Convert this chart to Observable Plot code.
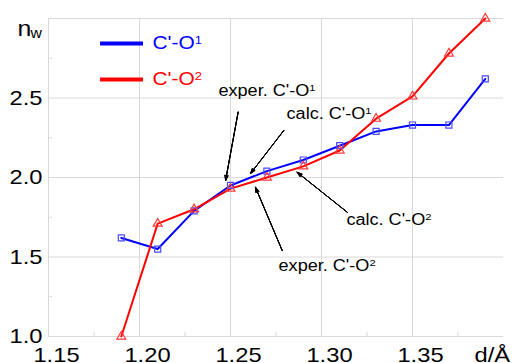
<!DOCTYPE html>
<html>
<head>
<meta charset="utf-8">
<script src="https://cdn.jsdelivr.net/npm/d3@7"></script>
<script src="https://cdn.jsdelivr.net/npm/@observablehq/plot@0.6"></script>
<style>
  html, body { margin: 0; padding: 0; background: #fff; }
  #chart svg { font-family: "Liberation Sans", Arial, sans-serif; }
</style>
</head>
<body>
<div id="chart"></div>
<script>
// Data
const distance = [1.19, 1.21, 1.23, 1.25, 1.27, 1.29, 1.31, 1.33, 1.35, 1.37, 1.39];
const nwCO1 = [1.62, 1.55, 1.79, 1.95, 2.04, 2.11, 2.20, 2.29, 2.33, 2.33, 2.62];
const nwCO2 = [1.00, 1.71, 1.80, 1.93, 2.00, 2.07, 2.17, 2.37, 2.51, 2.78, 3.00];

const xTicks = [1.15, 1.20, 1.25, 1.30, 1.35];
const xMinor = [1.175, 1.225, 1.275, 1.325, 1.375];
const yTicks = [1.0, 1.5, 2.0, 2.5];
const yMinor = [1.25, 1.75, 2.25, 2.75];
const xGrid = [1.20, 1.25, 1.30, 1.35];
const yGrid = [1.5, 2.0, 2.5, 3.0];

const seriesNames = ["C'-O\u00B9", "C'-O\u00B2"];
const seriesColors = ["#0000ff", "#ff0000"];

// Legend entries (data coordinates)
const legendY = [2.843, 2.616];
const legendX = [1.1786, 1.2022, 1.2071];

// Annotations (data coordinates)
const annLabels = ["exper. C'-O\u00B9", "calc. C'-O\u00B9", "calc. C'-O\u00B2", "exper. C'-O\u00B2"];
const annTextX = [1.2434, 1.2808, 1.3137, 1.2764];
const annTextY = [2.547, 2.403, 1.736, 1.447];
const annFromX = [1.2542, 1.2793, 1.3141, 1.2784];
const annFromY = [2.411, 2.296, 1.782, 1.541];
const annToX = [1.2473, 1.2610, 1.2866, 1.2637];
const annToY = [1.981, 2.025, 2.033, 1.939];
const headAngles = [40, 30, 20, 10];

const rows1 = distance.map((x, i) => ({x, y: nwCO1[i]}));
const rows2 = distance.map((x, i) => ({x, y: nwCO2[i]}));
const legendRows = seriesNames.map((name, i) => ({name, color: seriesColors[i], y: legendY[i]}));
const annRows = annLabels.map((t, i) => ({
  t, tx: annTextX[i], ty: annTextY[i],
  x1: annFromX[i], y1: annFromY[i], x2: annToX[i], y2: annToY[i]
}));

const grid = "#d9d9d9";

const chart = Plot.plot({
  width: 512,
  height: 363,
  marginLeft: 48,
  marginRight: 9,
  marginTop: 18,
  marginBottom: 27,
  x: {domain: [1.15, 1.40]},
  y: {domain: [1.0, 3.0]},
  marks: [
    Plot.gridX(xGrid, {stroke: grid, strokeOpacity: 1}),
    Plot.gridY(yGrid, {stroke: grid, strokeOpacity: 1}),
    Plot.ruleX([1.15], {stroke: grid}),
    Plot.ruleY([1.0], {stroke: grid}),
    Plot.axisX(xMinor, {tickSize: -4, stroke: grid, text: null}),
    Plot.axisY(yMinor, {tickSize: -4, stroke: grid, text: null}),
    Plot.axisX(xTicks, {tickSize: 0, tickPadding: 11, tickFormat: ".2f", fontSize: 21, fill: "#000", dx: 8, label: null}),
    Plot.axisY(yTicks, {tickSize: 0, tickPadding: 6, tickFormat: ".1f", fontSize: 21, fill: "#000", label: null}),
    Plot.text(["d/\u00C5"], {frameAnchor: "bottom-right", textAnchor: "start", lineAnchor: "top", dx: -29, dy: 11, fontSize: 21, fill: "#000"}),
    Plot.text(["n"], {frameAnchor: "top-left", textAnchor: "start", lineAnchor: "middle", dx: -31, dy: 10, fontSize: 22, fill: "#000"}),
    Plot.text(["w"], {frameAnchor: "top-left", textAnchor: "start", lineAnchor: "middle", dx: -18, dy: 15, fontSize: 14, fill: "#000"}),
    // series
    Plot.line(rows1, {x: "x", y: "y", stroke: seriesColors[0], strokeWidth: 2}),
    Plot.line(rows2, {x: "x", y: "y", stroke: seriesColors[1], strokeWidth: 2}),
    Plot.dot(rows1, {x: "x", y: "y", symbol: "square", r: 3.4, fill: "none", stroke: "#4a4aff", strokeWidth: 1.2}),
    Plot.dot(rows2, {x: "x", y: "y", symbol: "triangle", r: 3.3, fill: "none", stroke: "#ff3a3a", strokeWidth: 1.2}),
    // legend
    Plot.ruleY(legendRows, {y: "y", x1: legendX[0], x2: legendX[1], stroke: "color", strokeWidth: 4}),
    Plot.text(legendRows, {x: legendX[2], y: "y", text: "name", fill: "color", textAnchor: "start", lineAnchor: "middle", fontSize: 18.5}),
    // annotations
    ...headAngles.map(a => Plot.arrow(annRows, {x1: "x1", y1: "y1", x2: "x2", y2: "y2", stroke: "#000", strokeWidth: 1, headLength: 8, headAngle: a})),
    Plot.text(annRows, {x: "tx", y: "ty", text: "t", textAnchor: "start", lineAnchor: "middle", fontSize: 16, fill: "#000"})
  ]
});

// Superscripts as raised tspans
const SVGNS = "http://www.w3.org/2000/svg";
chart.querySelectorAll("text, tspan").forEach(el => {
  Array.from(el.childNodes).forEach(node => {
    if (node.nodeType !== 3) return;
    const s = node.nodeValue;
    const last = s.slice(-1);
    if (last !== "\u00B9" && last !== "\u00B2") return;
    node.nodeValue = s.slice(0, -1);
    const sp = document.createElementNS(SVGNS, "tspan");
    sp.setAttribute("font-size", "0.62em");
    sp.setAttribute("dy", "-0.44em");
    sp.textContent = last === "\u00B9" ? "1" : "2";
    el.insertBefore(sp, node.nextSibling);
  });
});

// Slightly wide type of the original
const k = 1.13;
chart.querySelectorAll("text").forEach(t => {
  const tr = t.getAttribute("transform") || "";
  const x = t.getAttribute("x");
  if (x != null && !isNaN(parseFloat(x)) && parseFloat(x) !== 0 && !x.includes(" ")) {
    t.removeAttribute("x");
    t.setAttribute("transform", `${tr} translate(${parseFloat(x)},0) scale(${k},1)`);
  } else {
    t.setAttribute("transform", `${tr} scale(${k},1)`);
  }
});

document.getElementById("chart").appendChild(chart);
</script>
</body>
</html>
